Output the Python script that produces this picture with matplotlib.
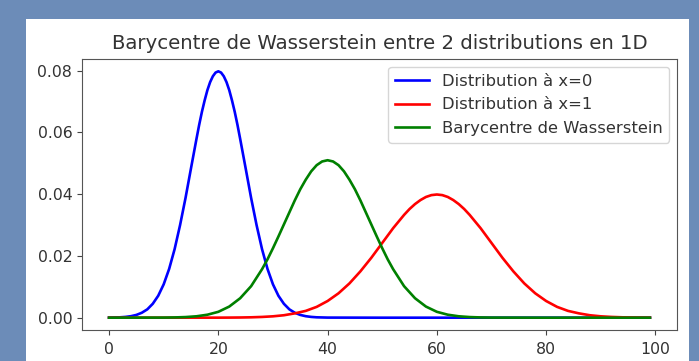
import matplotlib.pyplot as plt
from matplotlib.patches import Rectangle

# Distribution à x=0 (bleu)
blue_x = [0, 2, 3, 4, 5, 6, 7, 8, 9, 10, 11, 12, 13, 14, 15, 16, 16.5, 17, 17.5, 18, 18.5, 19,
          19.5, 20, 20.5, 21, 21.5, 22, 22.5, 23, 23.5, 24, 25, 26, 27, 28, 29, 30, 31, 32, 33,
          34, 35, 36, 37, 38, 40, 50, 99]
blue_y = [0.00003, 0.00012, 0.00025, 0.00048, 0.00089, 0.0016, 0.0027, 0.0045, 0.0071, 0.0108,
          0.0158, 0.0222, 0.0300, 0.0388, 0.0484, 0.0579, 0.0625, 0.0667, 0.0704, 0.0737,
          0.0763, 0.0782, 0.0794, 0.0798, 0.0794, 0.0782, 0.0763, 0.0737, 0.0704, 0.0667,
          0.0625, 0.0579, 0.0484, 0.0388, 0.0300, 0.0222, 0.0158, 0.0108, 0.0071, 0.0045,
          0.0027, 0.0016, 0.00089, 0.00048, 0.00025, 0.00012, 0.00003, 0.0, 0.0]

# Distribution à x=1 (rouge)
red_x = [0, 10, 20, 22, 24, 26, 28, 30, 32, 34, 36, 38, 40, 42, 44, 46, 48, 50, 52, 54, 55, 56,
         57, 58, 59, 60, 61, 62, 63, 64, 65, 66, 68, 70, 72, 74, 76, 78, 80, 82, 84, 86, 88, 90,
         92, 94, 96, 98, 99]
red_y = [0.0, 0.0, 0.00001, 0.00003, 0.00006, 0.00012, 0.00024, 0.00044, 0.00079, 0.0014,
         0.0022, 0.0035, 0.0054, 0.0079, 0.0111, 0.0150, 0.0194, 0.0242, 0.0290, 0.0333,
         0.0352, 0.0368, 0.0381, 0.0391, 0.0397, 0.0399, 0.0397, 0.0391, 0.0381, 0.0368,
         0.0352, 0.0333, 0.0290, 0.0242, 0.0194, 0.0150, 0.0111, 0.0079, 0.0054, 0.0035,
         0.0022, 0.0014, 0.00079, 0.00044, 0.00024, 0.00012, 0.00006, 0.00003, 0.00002]

# Barycentre de Wasserstein (vert)
green_x = [0, 10, 12, 14, 16, 18, 20, 22, 24, 26, 28, 29, 30, 31, 32, 33, 34, 35, 36, 37, 38, 39,
           40, 41, 42, 43, 44, 45, 46, 47, 48, 49, 50, 51, 52, 54, 56, 58, 60, 62, 64, 66, 68,
           70, 80, 99]
green_y = [0.0, 0.00003, 0.00008, 0.0002, 0.00045, 0.00096, 0.0019, 0.0036, 0.0063, 0.0102,
           0.0157, 0.0189, 0.0225, 0.0263, 0.0302, 0.0341, 0.0380, 0.0416, 0.0447, 0.0474,
           0.0494, 0.0506, 0.0510, 0.0506, 0.0494, 0.0474, 0.0447, 0.0416, 0.0380, 0.0341,
           0.0302, 0.0263, 0.0225, 0.0189, 0.0157, 0.0102, 0.0063, 0.0036, 0.0019, 0.00096,
           0.00045, 0.0002, 0.00008, 0.00003, 0.0, 0.0]

W, H = 699, 361
fig = plt.figure(figsize=(W / 100, H / 100), dpi=100, facecolor='#6c8cb8')
# white notebook output area, behind the axes
fig.patches.append(Rectangle((26 / W, 0), (689 - 26) / W, 1 - 19 / H, zorder=-10,
                             transform=fig.transFigure, facecolor='white', edgecolor='none'))

ax = fig.add_axes([82 / W, 1 - 330 / H, (677 - 82) / W, (330 - 59) / H])
ax.plot(blue_x, blue_y, color='b', lw=1.9, label='Distribution à x=0')
ax.plot(red_x, red_y, color='r', lw=1.9, label='Distribution à x=1')
ax.plot(green_x, green_y, color='g', lw=1.9, label='Barycentre de Wasserstein')
ax.set_title('Barycentre de Wasserstein entre 2 distributions en 1D', fontsize=14.2,
             color='#333333', pad=7)
ax.set_yticks([0.0, 0.02, 0.04, 0.06, 0.08])
ax.set_yticklabels(['0.00', '0.02', '0.04', '0.06', '0.08'])
ax.set_xticks([0, 20, 40, 60, 80, 100])
ax.tick_params(labelsize=11.3, colors='#444444', labelcolor='#333333')
ax.tick_params(axis='x', pad=5.5)
for s in ax.spines.values():
    s.set_color('#555555')
ax.legend(loc='upper right', fontsize=11.8, labelcolor='#333333', handlelength=2.1,
          labelspacing=0.53, handletextpad=0.75)

fig.savefig('out.png', dpi=100, facecolor=fig.get_facecolor())
